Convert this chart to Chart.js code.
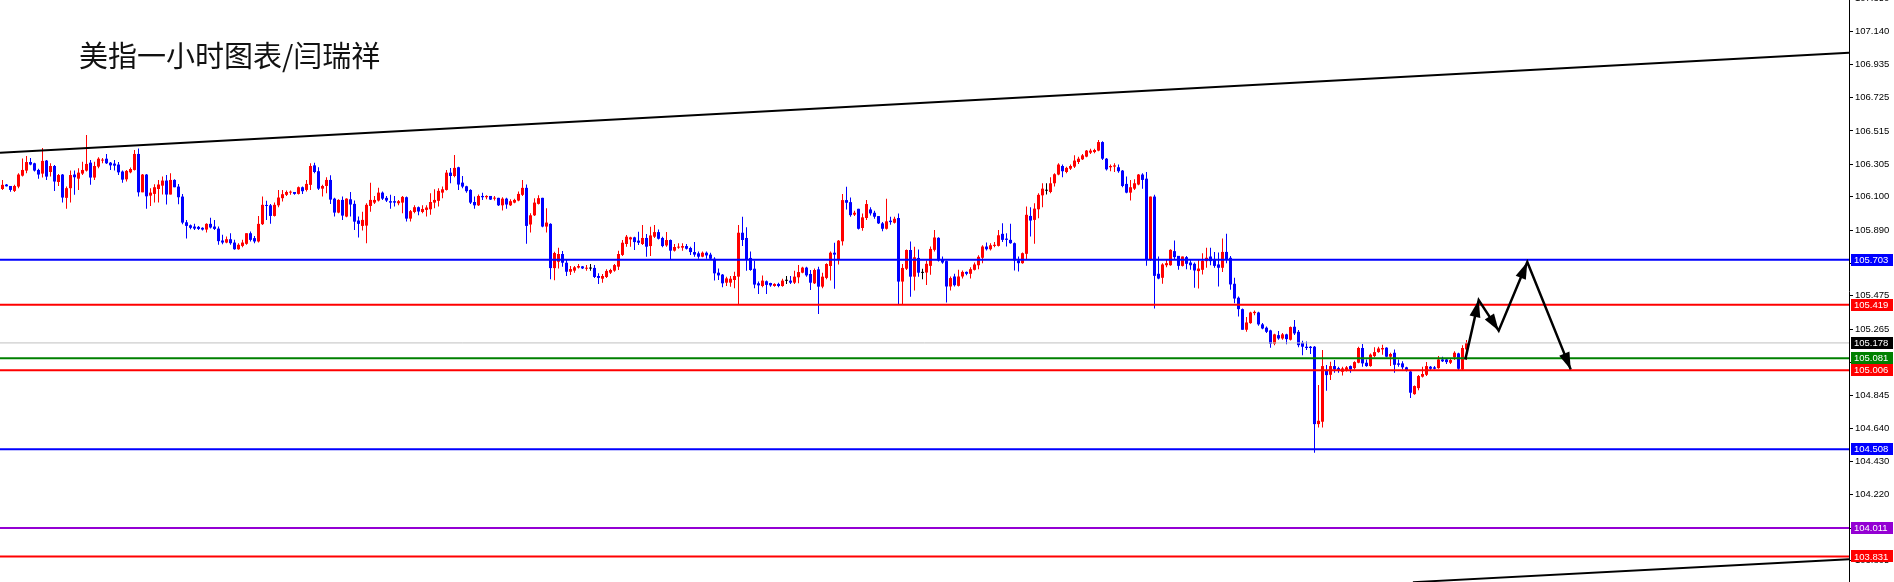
<!DOCTYPE html>
<html lang="zh">
<head>
  <meta charset="UTF-8">
  <title>美指一小时图表/闫瑞祥</title>
  <script src="https://cdn.jsdelivr.net/npm/chart.js@4.4.0/dist/chart.umd.min.js"></script>
  <style>
    html, body { margin: 0; padding: 0; background: #fff; overflow: hidden; }
    #marco { width: 1894px; height: 582px; }
  </style>
</head>
<body>

<div id="marco"><canvas id="grafico" width="1894" height="582"></canvas></div>

<script>
  // Velas de 1 hora (apertura / máximo / mínimo / cierre)
  const opens = [
    106.149,106.177,106.168,106.137,106.164,106.233,106.265,106.319,106.311,106.269,
    106.246,106.328,106.256,106.294,106.193,106.240,106.093,106.154,106.240,106.214,
    106.246,106.265,106.315,106.221,106.290,106.328,106.340,106.315,106.309,106.303,
    106.259,106.210,106.254,106.269,106.370,106.128,106.240,106.107,106.118,106.149,
    106.170,106.202,106.114,106.206,106.164,106.101,105.939,105.920,105.912,105.910,
    105.904,105.893,105.929,105.912,105.899,105.824,105.811,105.832,105.811,105.769,
    105.790,105.803,105.870,105.839,105.818,105.927,106.046,106.046,105.979,106.046,
    106.091,106.112,106.126,106.130,106.118,106.160,106.143,106.175,106.298,106.261,
    106.151,106.168,106.206,106.088,106.000,106.080,105.975,106.084,106.055,105.950,
    105.916,105.918,106.042,106.063,106.076,106.126,106.093,106.072,106.072,106.059,
    106.063,106.097,105.962,106.004,106.034,106.004,106.017,106.021,106.063,106.074,
    106.126,106.143,106.252,106.231,106.286,106.189,106.166,106.143,106.067,106.046,
    106.105,106.097,106.105,106.088,106.093,106.046,106.088,106.046,106.063,106.076,
    106.112,106.156,105.925,105.983,106.055,106.093,105.912,105.929,105.650,105.690,
    105.739,105.684,105.627,105.634,105.653,105.661,105.646,105.647,105.651,105.600,
    105.583,105.594,105.621,105.634,105.659,105.733,105.802,105.831,105.844,105.823,
    105.802,105.840,105.789,105.848,105.877,105.840,105.793,105.827,105.760,105.779,
    105.779,105.789,105.777,105.751,105.743,105.722,105.747,105.735,105.709,105.621,
    105.609,105.558,105.558,105.575,105.596,105.873,105.840,105.714,105.646,105.554,
    105.537,105.567,105.556,105.537,105.550,105.537,105.570,105.571,105.558,105.592,
    105.621,105.653,105.613,105.554,105.642,105.533,105.588,105.663,105.747,105.701,
    105.819,106.079,106.066,105.987,106.024,105.903,105.966,106.020,105.999,105.978,
    105.932,105.898,105.949,105.936,105.966,105.565,105.646,105.764,105.596,105.714,
    105.620,105.622,105.664,105.765,105.841,105.706,105.694,105.534,105.597,105.538,
    105.597,105.626,105.614,105.639,105.668,105.715,105.786,105.769,105.790,105.790,
    105.866,105.836,105.828,105.807,105.698,105.681,105.740,105.979,105.954,106.021,
    106.109,106.138,106.130,106.185,106.240,106.294,106.256,106.277,106.290,106.319,
    106.336,106.353,106.378,106.382,106.391,106.445,106.340,106.286,106.290,106.286,
    106.265,106.181,106.126,106.151,106.177,106.240,106.214,105.706,106.101,105.614,
    105.589,105.668,105.668,105.757,105.727,105.664,105.719,105.685,105.677,105.631,
    105.639,105.694,105.723,105.702,105.673,105.652,105.752,105.715,105.551,105.463,
    105.391,105.261,105.303,105.366,105.370,105.295,105.274,105.257,105.173,105.227,
    105.206,105.232,105.198,105.280,105.248,105.179,105.154,105.154,105.154,104.666,
    104.681,105.002,104.977,105.032,105.019,104.996,105.007,105.032,105.019,105.053,
    105.146,105.053,105.032,105.095,105.120,105.137,105.148,105.091,105.116,105.049,
    105.049,105.024,104.998,104.855,104.893,104.965,104.977,105.028,105.024,105.019,
    105.074,105.074,105.053,105.087,105.112,105.011,105.137
  ];
  const highs = [
    106.206,106.181,106.168,106.175,106.248,106.342,106.357,106.345,106.315,106.277,
    106.408,106.332,106.311,106.301,106.244,106.244,106.164,106.265,106.265,106.279,
    106.321,106.490,106.332,106.321,106.349,106.345,106.370,106.319,106.332,106.319,
    106.265,106.269,106.284,106.395,106.405,106.244,106.244,106.153,106.179,106.206,
    106.227,106.237,106.248,106.210,106.181,106.118,105.954,105.925,105.929,105.916,
    105.908,105.933,105.967,105.954,105.912,105.860,105.849,105.870,105.828,105.807,
    105.828,105.870,105.881,105.853,105.979,106.101,106.074,106.055,106.063,106.143,
    106.143,106.139,106.139,106.130,106.164,106.164,106.206,106.311,106.315,106.286,
    106.175,106.223,106.235,106.093,106.084,106.101,106.091,106.130,106.076,105.975,
    106.006,106.059,106.189,106.105,106.156,106.133,106.105,106.112,106.105,106.080,
    106.105,106.101,106.017,106.046,106.038,106.046,106.046,106.122,106.147,106.154,
    106.164,106.269,106.282,106.364,106.290,106.231,106.170,106.147,106.101,106.114,
    106.126,106.109,106.105,106.105,106.093,106.097,106.093,106.084,106.088,106.133,
    106.206,106.177,105.996,106.091,106.109,106.093,106.028,105.933,105.753,105.779,
    105.758,105.705,105.663,105.663,105.676,105.663,105.669,105.676,105.669,105.617,
    105.613,105.642,105.646,105.676,105.760,105.827,105.859,105.848,105.848,105.880,
    105.922,105.865,105.911,105.922,105.894,105.848,105.877,105.831,105.802,105.806,
    105.806,105.802,105.785,105.814,105.754,105.754,105.754,105.747,105.718,105.648,
    105.613,105.596,105.600,105.627,105.922,105.974,105.907,105.754,105.697,105.565,
    105.604,105.571,105.558,105.554,105.558,105.583,105.600,105.600,105.634,105.670,
    105.659,105.659,105.638,105.648,105.659,105.621,105.680,105.754,105.810,105.827,
    106.117,106.163,106.096,106.012,106.024,105.995,106.079,106.033,106.012,105.978,
    105.940,106.087,105.974,105.974,105.995,105.676,105.768,105.817,105.785,105.768,
    105.646,105.698,105.786,105.891,105.845,105.723,105.698,105.597,105.614,105.639,
    105.635,105.628,105.656,105.685,105.731,105.794,105.811,105.807,105.815,105.891,
    105.933,105.870,105.929,105.811,105.723,105.748,106.038,106.034,106.059,106.122,
    106.185,106.185,106.223,106.248,106.311,106.303,106.290,106.303,106.361,106.353,
    106.370,106.395,106.403,106.403,106.458,106.450,106.345,106.303,106.311,106.303,
    106.269,106.227,106.206,106.210,106.244,106.248,106.256,106.101,106.112,105.723,
    105.681,105.702,105.769,105.824,105.727,105.723,105.727,105.702,105.685,105.706,
    105.744,105.778,105.778,105.752,105.748,105.836,105.866,105.727,105.589,105.471,
    105.395,105.341,105.374,105.383,105.374,105.303,105.282,105.261,105.236,105.253,
    105.240,105.236,105.282,105.322,105.259,105.192,105.187,105.158,105.158,104.912,
    105.133,105.038,105.059,105.070,105.028,105.028,105.032,105.036,105.062,105.154,
    105.171,105.074,105.112,105.150,105.154,105.167,105.150,105.116,105.137,105.074,
    105.062,105.028,105.002,104.910,104.975,105.028,105.057,105.032,105.032,105.095,
    105.091,105.078,105.078,105.125,105.116,105.164,105.196
  ];
  const lows = [
    106.143,106.164,106.132,106.130,106.154,106.227,106.248,106.298,106.259,106.214,
    106.221,106.206,106.227,106.137,106.168,106.063,106.025,106.063,106.112,106.143,
    106.237,106.259,106.175,106.206,106.279,106.311,106.307,106.269,106.265,106.237,
    106.189,106.196,106.248,106.265,106.101,106.128,106.025,106.042,106.063,106.063,
    106.114,106.051,106.114,106.160,106.053,105.927,105.836,105.895,105.891,105.891,
    105.887,105.874,105.899,105.891,105.797,105.801,105.807,105.797,105.765,105.765,
    105.782,105.797,105.818,105.807,105.811,105.922,105.954,105.929,105.975,106.034,
    106.070,106.105,106.112,106.112,106.114,106.118,106.133,106.143,106.248,106.143,
    106.101,106.122,106.055,105.975,105.996,105.954,105.971,105.975,105.891,105.843,
    105.887,105.807,106.006,106.055,106.070,106.080,106.067,106.025,106.038,106.046,
    105.996,105.944,105.944,105.996,105.983,105.996,105.975,105.986,106.028,106.038,
    106.091,106.139,106.185,106.223,106.143,106.154,106.126,106.055,106.025,106.042,
    106.080,106.084,106.080,106.076,106.042,106.013,106.025,106.042,106.059,106.072,
    106.105,105.803,105.874,105.979,106.051,105.908,105.874,105.580,105.574,105.648,
    105.659,105.600,105.606,105.621,105.648,105.644,105.634,105.634,105.588,105.550,
    105.558,105.588,105.613,105.627,105.638,105.726,105.785,105.785,105.764,105.795,
    105.795,105.722,105.726,105.840,105.831,105.781,105.785,105.707,105.754,105.772,
    105.760,105.768,105.733,105.722,105.709,105.718,105.709,105.701,105.571,105.575,
    105.529,105.537,105.533,105.523,105.424,105.789,105.634,105.634,105.523,105.487,
    105.529,105.487,105.533,105.533,105.529,105.533,105.550,105.550,105.550,105.554,
    105.617,105.596,105.512,105.550,105.361,105.523,105.579,105.571,105.520,105.672,
    105.793,106.020,105.974,105.978,105.894,105.886,105.953,105.982,105.961,105.928,
    105.882,105.894,105.924,105.932,105.424,105.424,105.638,105.470,105.508,105.596,
    105.579,105.544,105.608,105.755,105.692,105.677,105.433,105.509,105.534,105.534,
    105.584,105.605,105.584,105.635,105.643,105.681,105.761,105.761,105.782,105.786,
    105.815,105.786,105.803,105.635,105.628,105.677,105.706,105.849,105.803,105.964,
    106.034,106.114,106.122,106.164,106.235,106.223,106.248,106.269,106.282,106.307,
    106.332,106.349,106.370,106.374,106.387,106.332,106.265,106.261,106.256,106.252,
    106.160,106.122,106.076,106.143,106.172,106.151,105.664,105.694,105.395,105.580,
    105.551,105.656,105.664,105.706,105.639,105.660,105.643,105.639,105.526,105.521,
    105.610,105.652,105.668,105.652,105.534,105.626,105.681,105.513,105.429,105.345,
    105.261,105.248,105.299,105.353,105.286,105.265,105.240,105.148,105.164,105.198,
    105.198,105.169,105.194,105.228,105.150,105.101,105.133,105.108,104.485,104.645,
    104.645,104.876,104.944,104.990,104.990,104.973,104.998,104.990,105.011,105.049,
    105.028,105.028,105.028,105.087,105.116,105.104,105.087,105.032,104.990,105.028,
    105.011,104.998,104.830,104.851,104.880,104.960,104.969,105.007,105.011,105.015,
    105.057,105.045,105.045,105.070,105.007,105.002,105.070
  ];
  const closes = [
    106.175,106.166,106.143,106.168,106.240,106.269,106.319,106.303,106.265,106.240,
    106.326,106.227,106.294,106.196,106.237,106.095,106.154,106.237,106.223,106.252,
    106.269,106.307,106.221,106.294,106.340,106.332,106.311,106.298,106.296,106.254,
    106.208,106.263,106.275,106.370,106.128,106.240,106.103,106.126,106.160,106.177,
    106.202,106.114,106.206,106.160,106.097,105.937,105.916,105.904,105.899,105.897,
    105.893,105.929,105.906,105.897,105.820,105.811,105.832,105.807,105.769,105.797,
    105.811,105.870,105.828,105.818,105.929,106.049,106.042,105.979,106.049,106.095,
    106.116,106.130,106.130,106.118,106.160,106.135,106.181,106.294,106.256,106.151,
    106.168,106.206,106.082,106.000,106.080,105.981,106.088,106.051,105.943,105.929,
    105.954,106.049,106.080,106.080,106.126,106.088,106.076,106.063,106.063,106.072,
    106.099,105.962,106.009,106.034,106.007,106.023,106.032,106.067,106.080,106.137,
    106.147,106.252,106.231,106.282,106.177,106.164,106.135,106.063,106.046,106.105,
    106.097,106.105,106.082,106.093,106.046,106.088,106.051,106.072,106.080,106.118,
    106.156,105.916,105.983,106.063,106.091,105.912,105.937,105.650,105.745,105.739,
    105.684,105.627,105.644,105.655,105.663,105.648,105.651,105.647,105.594,105.588,
    105.600,105.632,105.638,105.669,105.739,105.810,105.848,105.844,105.814,105.810,
    105.840,105.785,105.856,105.877,105.835,105.789,105.827,105.760,105.783,105.785,
    105.789,105.772,105.751,105.735,105.722,105.747,105.730,105.709,105.617,105.604,
    105.554,105.585,105.583,105.600,105.873,105.827,105.705,105.638,105.546,105.541,
    105.571,105.544,105.541,105.550,105.537,105.571,105.570,105.558,105.596,105.625,
    105.653,105.604,105.558,105.638,105.533,105.596,105.676,105.747,105.735,105.823,
    106.079,106.062,105.984,105.999,105.898,105.970,106.054,105.995,105.974,105.932,
    105.898,105.945,105.940,105.961,105.565,105.651,105.764,105.596,105.718,105.621,
    105.620,105.677,105.771,105.843,105.698,105.685,105.534,105.587,105.542,105.597,
    105.626,105.614,105.643,105.673,105.721,105.786,105.769,105.794,105.797,105.857,
    105.828,105.828,105.807,105.698,105.681,105.744,105.986,105.950,106.025,106.112,
    106.151,106.138,106.185,106.242,106.303,106.261,106.282,106.294,106.328,106.340,
    106.361,106.391,106.391,106.395,106.445,106.340,106.273,106.294,106.298,106.261,
    106.168,106.126,106.160,106.185,106.240,106.206,105.706,106.101,105.601,105.584,
    105.673,105.681,105.765,105.719,105.664,105.723,105.677,105.668,105.635,105.647,
    105.696,105.715,105.694,105.664,105.652,105.752,105.702,105.547,105.458,105.391,
    105.261,105.307,105.370,105.374,105.295,105.269,105.248,105.173,105.232,105.206,
    105.232,105.202,105.278,105.238,105.164,105.154,105.146,105.146,104.666,104.687,
    105.032,104.975,105.032,105.011,105.002,105.017,105.024,105.011,105.057,105.146,
    105.049,105.032,105.104,105.120,105.143,105.146,105.091,105.108,105.040,105.040,
    105.024,105.002,104.864,104.906,104.969,104.982,105.032,105.015,105.015,105.074,
    105.062,105.057,105.070,105.116,105.015,105.146,105.178
  ];

  // Marcas del eje de precios (derecha)
  const yTicks = [107.350, 107.140, 106.935, 106.725, 106.515, 106.305, 106.100, 105.890, 105.680,
                  105.475, 105.265, 105.055, 104.845, 104.640, 104.430, 104.220, 104.010, 103.805];

  // Niveles horizontales y sus colores
  const levels      = [105.703, 105.419, 105.178, 105.081, 105.006, 104.508, 104.011, 103.831];
  const levelColors = ['#0000ff', '#ff0000', '#c0c0c0', '#008000', '#ff0000', '#0000ff', '#9400d3', '#ff0000'];
  const tagColors   = ['#0000ff', '#ff0000', '#000000', '#008000', '#ff0000', '#0000ff', '#9400d3', '#ff0000'];

  // Líneas de canal (índice de vela, precio)
  const upperTrendX = [0.375, 462.625];
  const upperTrendY = [106.378, 107.008];
  const lowerTrendX = [353.6, 462.625];
  const lowerTrendY = [103.669, 103.814];

  // Flechas de pronóstico
  const forecastX = [366.7, 370.05, 375.05, 382.2, 393.05];
  const forecastY = [105.074, 105.448, 105.255, 105.688, 105.011];

  const titulo = '美指一小时图表/闫瑞祥';
  const xMin = 0.375, xMax = 462.625;
  const yMin = 103.670, yMax = 107.341;
  const fuenteEje = '"Liberation Sans", Arial, sans-serif';

  const velas = opens.map((_, i) => i + 1);
  const colorVela = velas.map((_, i) =>
    closes[i] > opens[i] ? '#ff0000' : (closes[i] < opens[i] ? '#0000ff' : '#000000'));

  const datasets = [];

  // líneas horizontales
  levels.forEach((v, i) => {
    datasets.push({
      type: 'line',
      data: [{ x: xMin, y: v }, { x: xMax, y: v }],
      borderColor: levelColors[i],
      borderWidth: v === 105.178 ? 1 : 2,
      pointRadius: 0,
      order: 5
    });
  });

  // canal
  datasets.push({
    type: 'line',
    data: upperTrendX.map((x, i) => ({ x, y: upperTrendY[i] })),
    borderColor: '#000', borderWidth: 2, pointRadius: 0, order: 4
  });
  datasets.push({
    type: 'line',
    data: lowerTrendX.map((x, i) => ({ x, y: lowerTrendY[i] })),
    borderColor: '#000', borderWidth: 2, pointRadius: 0, order: 4
  });

  // pronóstico
  const idxPronostico = datasets.length;
  datasets.push({
    type: 'line',
    data: forecastX.map((x, i) => ({ x, y: forecastY[i] })),
    borderColor: '#000', borderWidth: 2.5, pointRadius: 0, order: 1
  });

  // mechas
  datasets.push({
    type: 'bar',
    data: velas.map((x, i) => ({ x, y: [lows[i], highs[i]] })),
    backgroundColor: colorVela,
    barThickness: 1,
    grouped: false,
    borderWidth: 0,
    inflateAmount: 0,
    order: 20
  });
  // cuerpos
  datasets.push({
    type: 'bar',
    data: velas.map((x, i) => ({ x, y: [opens[i], closes[i]] })),
    backgroundColor: colorVela,
    barThickness: 3,
    minBarLength: 1,
    grouped: false,
    borderWidth: 0,
    inflateAmount: 0,
    order: 19
  });

  const extras = {
    id: 'extras',
    afterDatasetsDraw(chart) {
      const ctx = chart.ctx;
      const pts = chart.getDatasetMeta(idxPronostico).data;
      ctx.save();
      ctx.fillStyle = '#000';
      for (let i = 1; i < pts.length; i++) {
        const a = pts[i - 1], b = pts[i];
        const ang = Math.atan2(b.y - a.y, b.x - a.x);
        const largo = 17, medio = 5.5;
        const bx = b.x - largo * Math.cos(ang), by = b.y - largo * Math.sin(ang);
        ctx.beginPath();
        ctx.moveTo(b.x, b.y);
        ctx.lineTo(bx + medio * Math.sin(ang), by - medio * Math.cos(ang));
        ctx.lineTo(bx - medio * Math.sin(ang), by + medio * Math.cos(ang));
        ctx.closePath();
        ctx.fill();
      }
      ctx.restore();
    },
    afterDraw(chart) {
      const ctx = chart.ctx;
      const y = chart.scales.y;
      const right = chart.chartArea.right;
      ctx.save();
      // etiquetas de nivel
      ctx.font = '9.5px ' + fuenteEje;
      ctx.textBaseline = 'middle';
      ctx.textAlign = 'left';
      levels.forEach((v, i) => {
        const py = y.getPixelForValue(v);
        ctx.fillStyle = tagColors[i];
        ctx.fillRect(right + 2, Math.round(py) - 6, 42, 12);
        ctx.fillStyle = '#fff';
        ctx.fillText(v.toFixed(3), right + 5, py + 0.5);
      });
      // título
      ctx.fillStyle = '#111';
      ctx.font = '29px "Noto Sans CJK SC", sans-serif';
      ctx.textBaseline = 'alphabetic';
      ctx.fillText(titulo, 79, 67);
      ctx.restore();
    }
  };

  new Chart(document.getElementById('grafico'), {
    data: { datasets },
    options: {
      responsive: false,
      animation: false,
      devicePixelRatio: 1,
      layout: { padding: 0 },
      plugins: { legend: { display: false }, tooltip: { enabled: false } },
      scales: {
        x: { type: 'linear', min: xMin, max: xMax, display: false, offset: false },
        y: {
          type: 'linear',
          position: 'right',
          min: yMin,
          max: yMax,
          afterBuildTicks: s => { s.ticks = yTicks.map(v => ({ value: v })); },
          afterFit: s => { s.width = 45; s.paddingTop = 0; s.paddingBottom = 0; },
          grid: { display: true, drawOnChartArea: false, drawTicks: true, tickLength: 4, color: '#000' },
          border: { display: true, color: '#000', width: 1 },
          ticks: {
            color: '#000',
            autoSkip: false,
            padding: 2,
            font: { family: fuenteEje, size: 9.5 },
            callback: v => Number(v).toFixed(3)
          }
        }
      }
    },
    plugins: [extras]
  });
</script>

</body>
</html>
